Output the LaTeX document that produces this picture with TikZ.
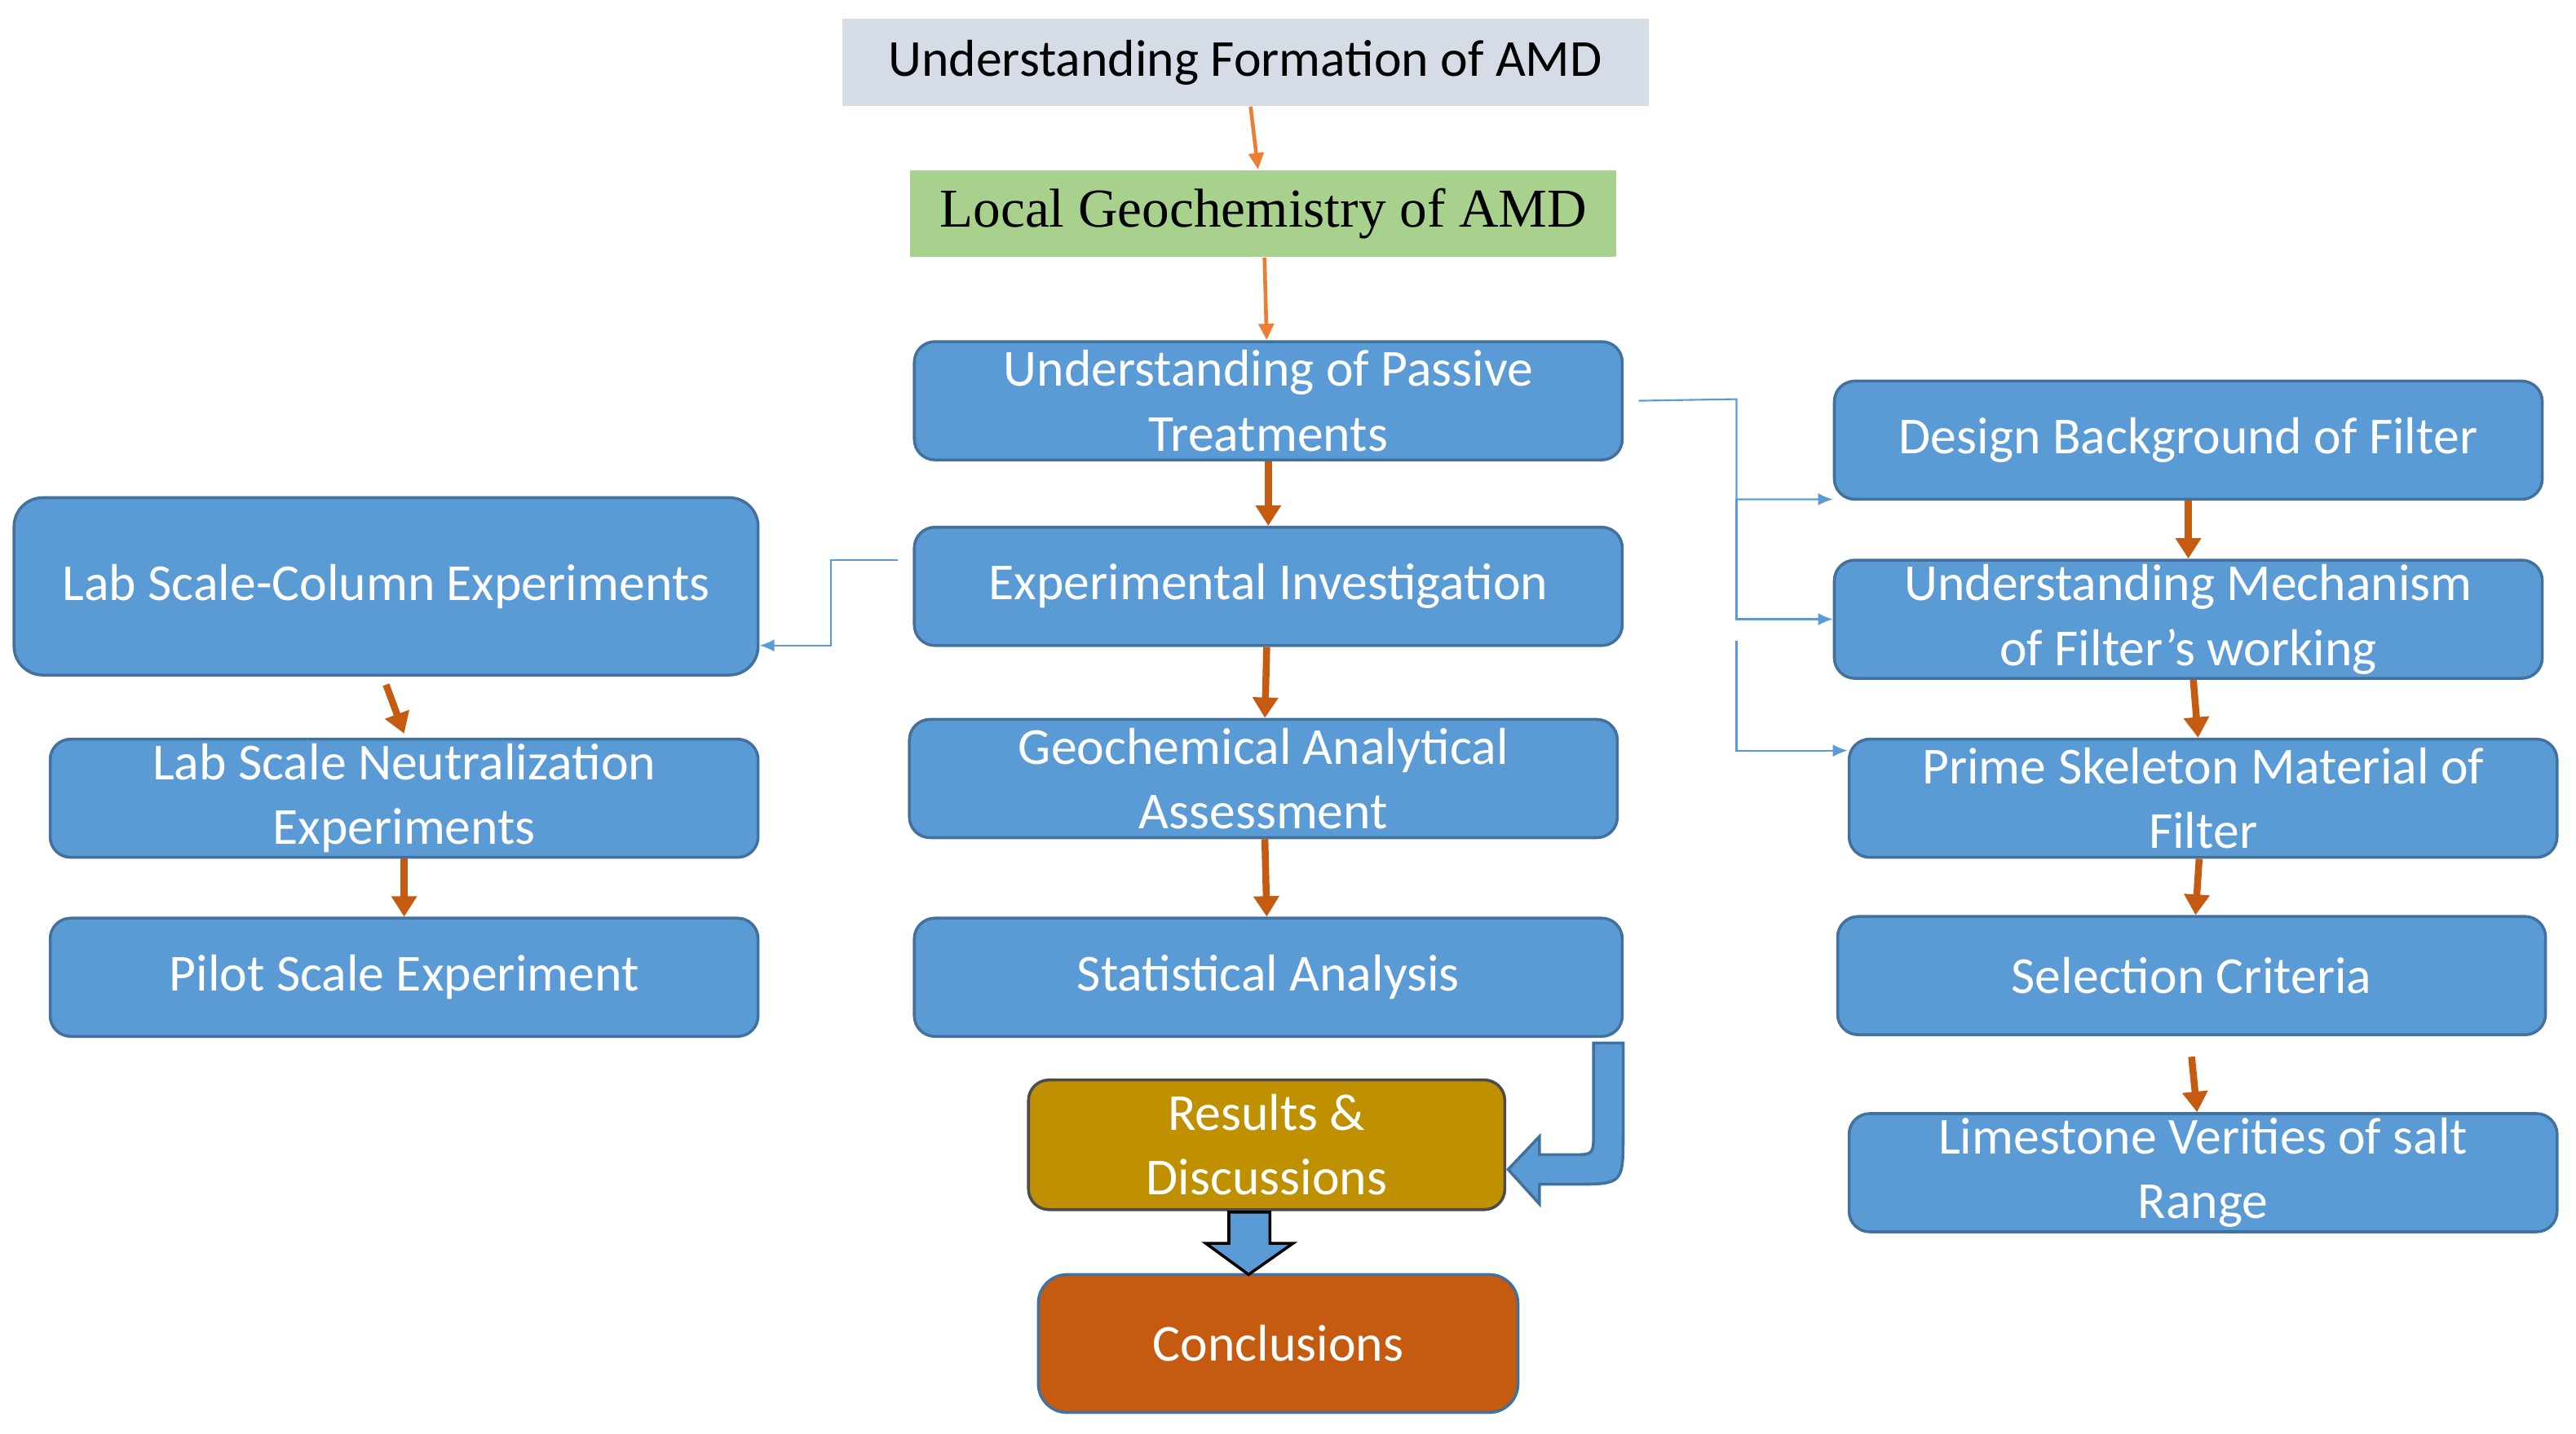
\documentclass[tikz,border=0pt]{standalone}
\usepackage{fontspec}
\setmainfont{Carlito}
\newfontfamily\tnr{Liberation Serif}
\usepackage{xcolor}
\usetikzlibrary{shapes,arrows.meta,positioning}
\definecolor{boxblue}{HTML}{5B9BD5}
\definecolor{boxedge}{HTML}{41719C}
\definecolor{topgray}{HTML}{D6DCE5}
\definecolor{geogreen}{HTML}{A9D18E}
\definecolor{resgold}{HTML}{BF9000}
\definecolor{conorange}{HTML}{C55A11}
\definecolor{thinorange}{HTML}{ED7D31}

\begin{document}
\begin{tikzpicture}[
    x=0.02cm, y=-0.02cm,
    box/.style={rectangle, rounded corners=0.25cm, fill=boxblue, draw=boxedge, line width=1pt, text=white, align=center, inner sep=0pt, minimum width=8.62cm, minimum height=1.44cm, font=\fontsize{18}{22.5}\selectfont},
    flat/.style={rectangle, inner sep=0pt, minimum height=1.06cm, align=center},
    arrow/.style={-{Triangle[width=0.3cm,length=0.25cm]}, line width=2.4pt, draw=conorange},
    thin/.style={-{Triangle[width=0.18cm,length=0.2cm]}, line width=1.3pt, draw=thinorange},
    link/.style={-{Latex[width=0.15cm,length=0.18cm]}, line width=0.6pt, draw=boxblue}
]
    \useasboundingbox (0,0) rectangle (1568,873);
    % top of the chain
    \node[flat, fill=topgray, minimum width=9.82cm, font=\fontsize{18}{22}\selectfont] (formation) at (758,38) {Understanding Formation of AMD};
    \node[flat, fill=geogreen, minimum width=8.6cm, font=\tnr\fontsize{19}{22}\selectfont] (local) at (769,130) {Local Geochemistry of AMD};
    % middle column
    \node[box] (passive) at (772,244) {Understanding of Passive\\Treatments};
    \node[box] (investigation) at (772,357) {Experimental Investigation};
    \node[box] (assessment) at (769,474) {Geochemical Analytical\\Assessment};
    \node[box] (statistics) at (772,595) {Statistical Analysis};
    \node[box, fill=resgold, draw=black!70, minimum width=5.8cm, minimum height=1.58cm] (results) at (771,697) {Results \&\\Discussions};
    \node[box, fill=conorange, draw=boxedge, rounded corners=0.35cm, minimum width=5.84cm, minimum height=1.68cm] (conclusions) at (778,818) {Conclusions};
    % left column
    \node[box, rounded corners=0.35cm, minimum width=9.06cm, minimum height=2.16cm] (column) at (235,357) {Lab Scale-Column Experiments};
    \node[box] (neutral) at (246,486) {Lab Scale Neutralization\\Experiments};
    \node[box] (pilot) at (246,595) {Pilot Scale Experiment};
    % right column
    \node[box] (design) at (1332,268) {Design Background of Filter};
    \node[box] (mechanism) at (1332,377) {Understanding Mechanism\\of Filter’s working};
    \node[box] (skeleton) at (1341,486) {Prime Skeleton Material of\\Filter};
    \node[box] (criteria) at (1334,594) {Selection Criteria};
    \node[box] (limestone) at (1341,714) {Limestone Verities of salt\\Range};

    \draw[thin] (formation) -- (local);
    \draw[thin] (local) -- (passive);
    \draw[arrow] (passive) -- (investigation);
    \draw[arrow] (investigation) -- (assessment);
    \draw[arrow] (assessment) -- (statistics);
    \draw[arrow] ([yshift=-0.1cm]column.south) -- ([yshift=0.05cm]neutral.north);
    \draw[arrow] (neutral) -- (pilot);
    \draw[arrow] (design) -- (mechanism);
    \draw[arrow] (mechanism) -- (skeleton);
    \draw[arrow] (skeleton) -- (criteria);
    \draw[arrow] ([yshift=-0.25cm]criteria.south) -- (limestone);

    % thin links
    \coordinate (split) at (1057,243);
    \coordinate (gap) at (1057,390);
    \draw[link] ([xshift=0.18cm]passive.east) -- (split) |- (design.south west |- 0,304);
    \draw[link] (1057,304) |- (mechanism.west);
    \draw[link] (gap) |- (skeleton.west |- 0,457);
    \coordinate (bend) at (506,341);
    \draw[link] ([xshift=-0.18cm]investigation.west |- 0,341) -- (bend) |- (column.east |- 0,393);

    % block arrows
    \filldraw[fill=boxblue, draw=boxedge, line width=1pt]
        (970,635) -- (988,635) -- (988,690) .. controls (988,721) .. (958,721)
        -- (937,721) -- (937,733) -- (918,712) -- (937,692) -- (937,703)
        -- (958,703) .. controls (970,703) .. (970,688) -- cycle;
    \filldraw[fill=boxblue, draw=black, line width=1pt]
        (748,738) -- (773,738) -- (773,757) -- (787,757) -- (760,776)
        -- (734,757) -- (748,757) -- cycle;
\end{tikzpicture}
\end{document}
